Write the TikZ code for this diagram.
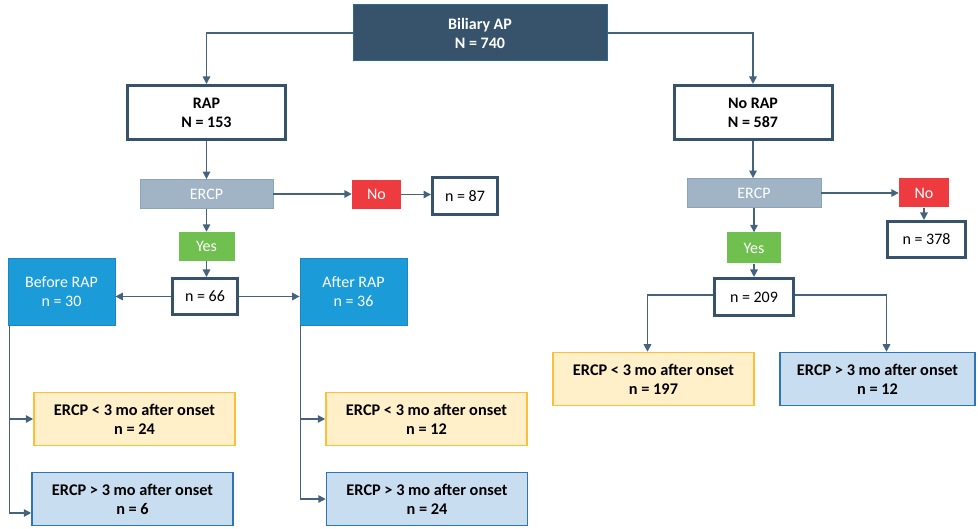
\documentclass[tikz,border=0pt]{standalone}
\usepackage{fontspec}
\setmainfont{Carlito}
\usetikzlibrary{arrows.meta}
\definecolor{dark}{HTML}{36536B}
\definecolor{darkedge}{HTML}{2F6A8A}
\definecolor{arrowc}{HTML}{46637D}
\definecolor{ercpfill}{HTML}{A0B4C6}
\definecolor{ercpedge}{HTML}{8CA4B9}
\definecolor{nored}{HTML}{EE3B3F}
\definecolor{yesgreen}{HTML}{70C050}
\definecolor{timeblue}{HTML}{1B9BD7}
\definecolor{timeedge}{HTML}{1A86C2}
\definecolor{yelfill}{HTML}{FFF0C9}
\definecolor{yeledge}{HTML}{FDBE3A}
\definecolor{lbfill}{HTML}{C9DDF0}
\definecolor{lbedge}{HTML}{2E75B6}
\begin{document}
\begin{tikzpicture}[x=1pt,y=-1pt,
  every node/.style={inner sep=0pt,align=center,font=\fontsize{16}{19}\selectfont},
  topbox/.style={fill=dark,draw=darkedge,line width=1pt,text=white,font=\fontsize{16}{19}\selectfont\bfseries},
  thickbox/.style={fill=white,draw=dark,line width=3pt},
  ercpbox/.style={fill=ercpfill,draw=ercpedge,line width=0.8pt,text=white,minimum height=29pt},
  nobox/.style={fill=nored,text=white,minimum height=29pt},
  yesbox/.style={fill=yesgreen,text=white},
  timebox/.style={fill=timeblue,draw=timeedge,line width=0.8pt,text=white,minimum width=107pt,minimum height=67pt},
  earlybox/.style={fill=yelfill,draw=yeledge,line width=1.5pt,minimum height=53pt,font=\fontsize{16.3}{19}\selectfont\bfseries},
  latebox/.style={fill=lbfill,draw=lbedge,line width=1.5pt,minimum height=53pt,font=\fontsize{16.3}{19}\selectfont\bfseries},
  arr/.style={draw=arrowc,line width=1.5pt,-{Triangle[length=7.5pt,width=7.5pt]}}
]
\useasboundingbox (0,0) rectangle (978,529);
% top
\node[topbox,minimum width=254pt,minimum height=56pt] (bap) at (480,33) {Biliary AP\\N = 740};
\node[thickbox,minimum width=158pt,minimum height=54pt,font=\fontsize{16}{19}\selectfont\bfseries] (rap) at (206.5,112.5) {RAP\\N = 153};
\node[thickbox,minimum width=158pt,minimum height=54pt,font=\fontsize{16}{19}\selectfont\bfseries] (norap) at (753,112.5) {No RAP\\N = 587};
% left branch
\node[ercpbox,minimum width=133pt] (ercpL) at (206.5,194) {ERCP};
\node[nobox,minimum width=49pt] (noL) at (376.5,194.5) {No};
\node[thickbox,minimum width=65pt,minimum height=37pt] (n87) at (465,196) {n = 87};
\node[yesbox,minimum width=56pt,minimum height=29pt] (yesL) at (206.5,246.5) {Yes};
\node[thickbox,minimum width=65pt,minimum height=36pt] (n66) at (205,296.5) {n = 66};
\node[timebox] (bef) at (61.5,291.5) {Before RAP\\n = 30};
\node[timebox] (aft) at (353.5,291.5) {After RAP\\n = 36};
\node[earlybox,minimum width=201pt] (yl1) at (134.5,419) {ERCP < 3 mo after onset\\n = 24};
\node[latebox,minimum width=201pt] (bl1) at (132.5,499) {ERCP > 3 mo after onset\\n = 6};
\node[earlybox,minimum width=201pt] (yl2) at (426.5,419) {ERCP < 3 mo after onset\\n = 12};
\node[latebox,minimum width=201pt] (bl2) at (427,499) {ERCP > 3 mo after onset\\n = 24};
% right branch
\node[ercpbox,minimum width=134pt] (ercpR) at (754,193) {ERCP};
\node[nobox,minimum width=50pt] (noR) at (924,193) {No};
\node[thickbox,minimum width=78pt,minimum height=36pt] (n378) at (926.5,239.5) {n = 378};
\node[yesbox,minimum width=54pt,minimum height=31pt] (yesR) at (754,248) {Yes};
\node[thickbox,minimum width=79pt,minimum height=37pt] (n209) at (754,297) {n = 209};
\node[earlybox,minimum width=201pt] (yr) at (653.5,379) {ERCP < 3 mo after onset\\n = 197};
\node[latebox,minimum width=195pt] (br) at (877.5,379) {ERCP > 3 mo after onset\\n = 12};
% connectors
\draw[arr] (bap.west) -| (rap.north);
\draw[arr] (bap.east) -| (norap.north);
\draw[arr] (rap.south) -- (ercpL.north);
\draw[arr] (ercpL.east) -- (ercpL.east -| noL.west);
\draw[arr] (noL.east) -- (noL.east -| n87.west);
\draw[arr] (ercpL.south) -- (yesL.north);
\draw[arr] (yesL.south) -- (yesL.south |- n66.north);
\draw[arr] (n66.west) -- (n66.west -| bef.east);
\draw[arr] (n66.east) -- (n66.east -| aft.west);
\coordinate (lv) at ([xshift=2pt]bef.south west);
\coordinate (rv) at ([xshift=1pt]aft.south west);
\draw[arr] (lv) |- (yl1.west);
\draw[arr] (lv) |- ([yshift=-14pt]bl1.west);
\draw[arr] (rv) |- (yl2.west);
\draw[arr] (rv) |- (bl2.west);
\draw[arr] (norap.south) -- (norap.south |- ercpR.north);
\draw[arr] (ercpR.east) -- (noR.west);
\draw[arr] (noR.south) -- (noR.south |- n378.north);
\draw[arr] (ercpR.south) -- (yesR.north);
\draw[arr] (yesR.south) -- (n209.north);
\draw[arr] ([yshift=2pt]n209.west) -| ([xshift=-6pt]yr.north);
\draw[arr] ([yshift=2pt]n209.east) -| ([xshift=9pt]br.north);
\end{tikzpicture}
\end{document}
